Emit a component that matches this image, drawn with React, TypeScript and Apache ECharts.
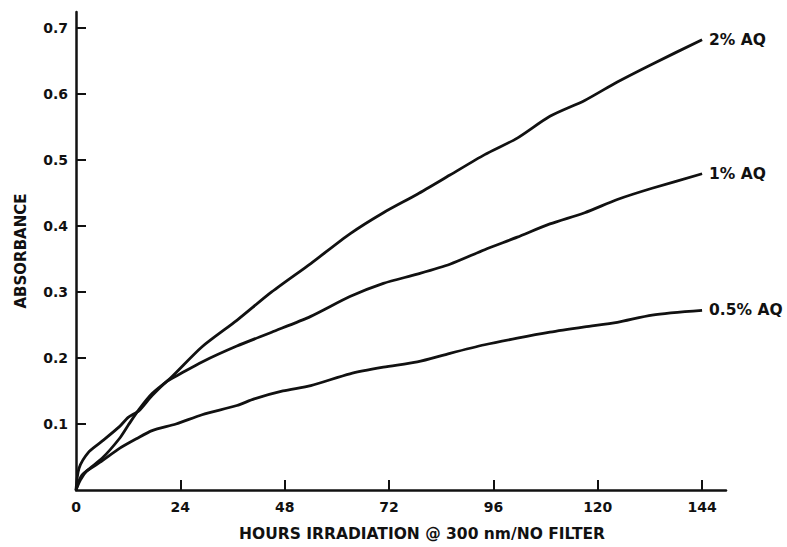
import React, { useEffect, useRef } from "react";
import * as echarts from "echarts";

const xTickValues = [0, 24, 48, 72, 96, 120, 144];
const xInnerTicks = [24, 48, 72, 96, 120, 144];
const yTickValues = [0.1, 0.2, 0.3, 0.4, 0.5, 0.6, 0.7];

const seriesNames = ["2% AQ", "1% AQ", "0.5% AQ"];

const hours2 = [0, 1, 2.5, 6, 10, 12, 14.5, 17.5, 21.5, 29, 37, 45, 54, 63, 70.7, 78.5, 86, 94, 101.5, 109, 117, 124.5, 132.5, 144];
const abs2 = [0, 0.015, 0.029, 0.048, 0.078, 0.098, 0.122, 0.146, 0.168, 0.217, 0.257, 0.3, 0.343, 0.388, 0.42, 0.448, 0.477, 0.508, 0.533, 0.566, 0.59, 0.618, 0.645, 0.682];

const hours1 = [0, 0.7, 3, 6, 10, 12, 14.5, 17.5, 21, 24, 29, 37, 45, 54, 63, 70.7, 78.5, 86, 94, 101.5, 109, 117, 124.5, 132.5, 144];
const abs1 = [0, 0.033, 0.058, 0.074, 0.096, 0.11, 0.12, 0.143, 0.165, 0.176, 0.194, 0.218, 0.239, 0.263, 0.293, 0.313, 0.327, 0.342, 0.364, 0.383, 0.403, 0.42, 0.44, 0.457, 0.479];

const hours05 = [0, 1.4, 6, 10, 14, 17.5, 23, 29, 37, 41, 47.6, 54, 63, 70.7, 78.5, 86, 94, 101.5, 109, 117, 124.5, 132.5, 144];
const abs05 = [0, 0.023, 0.044, 0.063, 0.078, 0.09, 0.1, 0.114, 0.128, 0.138, 0.15, 0.158, 0.176, 0.186, 0.194, 0.207, 0.22, 0.23, 0.239, 0.247, 0.254, 0.265, 0.272];

const xName = "HOURS IRRADIATION @ 300 nm/NO FILTER";
const yName = "ABSORBANCE";

const INK = "#111111";
const FONT = "DejaVu Sans";

function pairs(xs: number[], ys: number[]) {
  return xs.map((x, i) => [x, ys[i]]);
}

export default function App() {
  const ref = useRef<HTMLDivElement>(null);
  useEffect(() => {
    if (!ref.current) return;
    const chart = echarts.init(ref.current, null, { renderer: "svg" });
    const datasets = [pairs(hours2, abs2), pairs(hours1, abs1), pairs(hours05, abs05)];
    chart.setOption({
      animation: false,
      backgroundColor: "#ffffff",
      grid: { left: 76, right: 61, top: 12, bottom: 56 },
      xAxis: {
        type: "value",
        min: 0,
        max: 149.5,
        name: xName,
        nameLocation: "middle",
        nameGap: 36,
        nameTextStyle: {
          fontFamily: FONT,
          fontWeight: "bold",
          fontSize: 15.5,
          color: INK,
          padding: [0, 0, 0, 42],
        },
        axisLine: { show: true, lineStyle: { color: INK, width: 2.5 } },
        axisTick: {
          show: true,
          inside: true,
          length: 10,
          customValues: xInnerTicks,
          lineStyle: { color: INK, width: 2 },
        },
        axisLabel: {
          customValues: xTickValues,
          margin: 10,
          fontFamily: FONT,
          fontWeight: "bold",
          fontSize: 14,
          color: INK,
        },
        splitLine: { show: false },
      },
      yAxis: {
        type: "value",
        min: 0,
        max: 0.724,
        name: yName,
        nameLocation: "middle",
        nameGap: 48,
        nameRotate: 90,
        nameTextStyle: {
          fontFamily: FONT,
          fontWeight: "bold",
          fontSize: 15,
          color: INK,
        },
        axisLine: { show: true, lineStyle: { color: INK, width: 2.5 } },
        axisTick: {
          show: true,
          inside: true,
          length: 10,
          customValues: yTickValues,
          lineStyle: { color: INK, width: 2 },
        },
        axisLabel: {
          customValues: yTickValues,
          margin: 8,
          formatter: (v: number) => v.toFixed(1),
          fontFamily: FONT,
          fontWeight: "bold",
          fontSize: 14,
          color: INK,
        },
        splitLine: { show: false },
      },
      series: seriesNames.map((name, i) => ({
        name,
        type: "line",
        data: datasets[i],
        smooth: 0.25,
        symbol: "none",
        lineStyle: { color: INK, width: 2.8 },
        endLabel: {
          show: true,
          formatter: "{a}",
          distance: 7,
          fontFamily: FONT,
          fontWeight: "bold",
          fontSize: 15.5,
          color: INK,
        },
      })),
    });
    return () => chart.dispose();
  }, []);
  return (
    <div
      ref={ref}
      style={{ position: "fixed", left: 0, top: 0, width: 787, height: 547, background: "#fff" }}
    />
  );
}
